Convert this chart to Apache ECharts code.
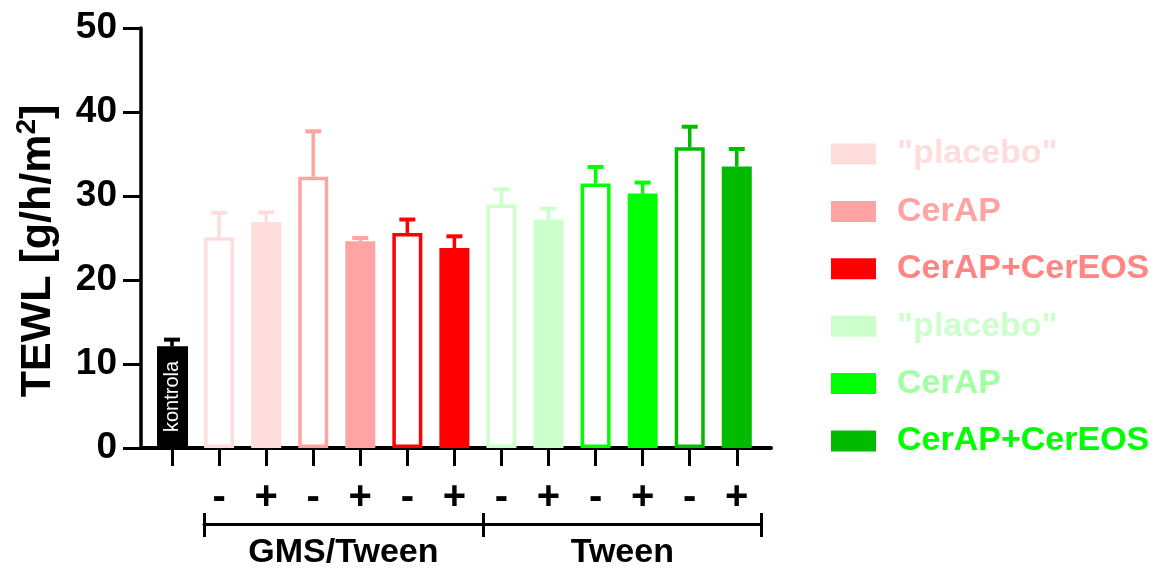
<!DOCTYPE html>
<html>
<head>
<meta charset="utf-8">
<script src="https://cdn.jsdelivr.net/npm/echarts@6/dist/echarts.min.js"></script>
<style>
html,body{margin:0;padding:0;background:#fff;}
#main{width:1157px;height:570px;}
</style>
</head>
<body>
<div id="main"></div>
<script>
// ---- data ----
const categories = ['kontrola', 'GMS-placebo', 'GMS+placebo', 'GMS-CerAP', 'GMS+CerAP', 'GMS-CerAP+CerEOS', 'GMS+CerAP+CerEOS',
  'T-placebo', 'T+placebo', 'T-CerAP', 'T+CerAP', 'T-CerAP+CerEOS', 'T+CerAP+CerEOS'];
const tickLabels = ['', '-', '+', '-', '+', '-', '+', '-', '+', '-', '+', '-', '+'];
const means  = [12.1, 25.1, 26.9, 32.3, 24.6, 25.6, 23.8, 29.0, 27.2, 31.5, 30.3, 35.8, 33.5];
const errors = [0.8, 2.9, 1.15, 5.4, 0.4, 1.6, 1.4, 1.8, 1.3, 1.95, 1.3, 2.45, 2.1];
const groupNames = ['GMS/Tween|"placebo"', 'GMS/Tween|CerAP', 'GMS/Tween|CerAP+CerEOS',
  'Tween|"placebo"', 'Tween|CerAP', 'Tween|CerAP+CerEOS'];
const groupBars = [[1, 2], [3, 4], [5, 6], [7, 8], [9, 10], [11, 12]]; // [open (-), filled (+)]
const bracketLabels = ['GMS/Tween', 'Tween'];
const yTicks = { min: 0, max: 50, interval: 10 };

// ---- styles ----
const groupColors = ['#FFDDDD', '#FFA3A3', '#FF0000', '#CCFFCC', '#00FF00', '#00BB00'];
const legendTextColors = ['#FFDDDD', '#FFA3A3', '#FF8484', '#CCFFCC', '#A3FFA3', '#00FF00'];
const FONT = '"Liberation Sans", Arial, sans-serif';

const chart = echarts.init(document.getElementById('main'));

function errorSeries(name, idxList, color) {
  return {
    type: 'custom', name: name, xAxisIndex: 0, yAxisIndex: 0, z: 3,
    data: idxList.map(i => [i, means[i], means[i] + errors[i]]),
    renderItem: function (params, api) {
      const b = api.coord([api.value(0), api.value(1)]);
      const t = api.coord([api.value(0), api.value(2)]);
      return {
        type: 'group', children: [
          { type: 'line', shape: { x1: b[0], y1: b[1], x2: t[0], y2: t[1] }, style: { stroke: color, lineWidth: 3.5 } },
          { type: 'line', shape: { x1: t[0] - 8, y1: t[1], x2: t[0] + 8, y2: t[1] }, style: { stroke: color, lineWidth: 4 } }
        ]
      };
    }
  };
}

const series = [];
// kontrola
series.push({
  type: 'bar', name: 'kontrola', xAxisIndex: 0, yAxisIndex: 0, barWidth: 31, barGap: '-100%', z: 4,
  data: categories.map((c, i) => i === 0 ? means[0] : null),
  itemStyle: { color: '#000' },
  label: {
    show: true, formatter: 'kontrola', position: 'insideBottom', rotate: 90, align: 'left',
    verticalAlign: 'middle', distance: 16, color: '#fff', fontSize: 20, fontFamily: FONT
  }
});
series.push(errorSeries('err-kontrola', [0], '#000'));

groupNames.forEach((g, gi) => {
  const col = groupColors[gi];
  const [openI, fillI] = groupBars[gi];
  const data = categories.map((c, i) => {
    if (i === openI) return { value: means[i], itemStyle: { color: '#fff', borderColor: col, borderWidth: 3.5 }, barWidth: 28 };
    if (i === fillI) return { value: means[i], itemStyle: { color: col, borderWidth: 0 } };
    return null;
  });
  series.push({
    type: 'bar', name: g, xAxisIndex: 0, yAxisIndex: 0, barWidth: 30, barGap: '-100%', z: 4,
    itemStyle: { color: col }, data: data
  });
  series.push(errorSeries('err-' + g, [openI, fillI], col));
});

const option = {
  animation: false,
  backgroundColor: '#fff',
  grid: [
    { left: 148.5, right: 396.7, top: 28, bottom: 122 },
    { left: 141, right: 386, top: 28, bottom: 122 },
    { left: 204, right: 395.3, top: 480, bottom: 37 }
  ],
  xAxis: [
    {
      type: 'category', gridIndex: 0, data: categories,
      axisLine: { show: false },
      axisTick: { show: true, alignWithLabel: true, length: 18, lineStyle: { color: '#000', width: 3 } },
      axisLabel: {
        formatter: (v, i) => tickLabels[i], interval: 0, margin: 30,
        color: '#000', fontSize: 40, fontWeight: 'bold', fontFamily: FONT
      }
    },
    {
      type: 'value', gridIndex: 1, min: 0, max: 1,
      axisLine: { show: true, lineStyle: { color: '#000', width: 4 } },
      axisTick: { show: false }, axisLabel: { show: false }, splitLine: { show: false }
    },
    {
      type: 'category', gridIndex: 2, data: bracketLabels, position: 'bottom',
      axisLine: { show: true, lineStyle: { color: '#000', width: 3 } },
      axisTick: { show: true, inside: false, length: 13, lineStyle: { color: '#000', width: 3 } },
      axisLabel: { margin: 12, color: '#000', fontSize: 34, fontWeight: 'bold', fontFamily: FONT }
    },
    {
      type: 'category', gridIndex: 2, data: bracketLabels, position: 'bottom', offset: 0,
      axisLine: { show: false },
      axisTick: { show: true, inside: true, length: 11, lineStyle: { color: '#000', width: 3 } },
      axisLabel: { show: false }
    }
  ],
  yAxis: [
    { type: 'value', gridIndex: 0, min: yTicks.min, max: yTicks.max, show: false },
    {
      type: 'value', gridIndex: 1, min: yTicks.min, max: yTicks.max, interval: yTicks.interval,
      axisLine: { show: true, lineStyle: { color: '#000', width: 3.5 } },
      axisTick: { show: true, length: 18, lineStyle: { color: '#000', width: 3 } },
      axisLabel: { margin: 24, color: '#000', fontSize: 37, fontWeight: 'bold', fontFamily: FONT },
      splitLine: { show: false }
    },
    { type: 'value', gridIndex: 2, show: false }
  ],
  legend: {
    orient: 'vertical', left: 826, top: 132, itemWidth: 45, itemHeight: 21, itemGap: 23.4,
    icon: 'rect', selectedMode: false,
    formatter: n => n.split('|')[1],
    textStyle: { fontSize: 34, fontWeight: 'bold', fontFamily: FONT, padding: [0, 0, 0, 16] },
    data: groupNames.map((g, gi) => ({
      name: g, itemStyle: { color: groupColors[gi], borderWidth: 0 },
      textStyle: { color: legendTextColors[gi] }
    }))
  },
  graphic: [{
    type: 'text', x: 38, y: 251, rotation: Math.PI / 2,
    style: {
      text: '{a|TEWL [g/h/m}{b|2}{a|]}', align: 'center', verticalAlign: 'middle',
      rich: {
        a: { fontSize: 43, fontWeight: 'bold', fontFamily: FONT, fill: '#000', lineHeight: 46 },
        b: { fontSize: 28, fontWeight: 'bold', fontFamily: FONT, fill: '#000', lineHeight: 46, padding: [0, 0, 21, 0] }
      }
    }
  }],
  series: series
};
chart.setOption(option);
</script>
</body>
</html>
